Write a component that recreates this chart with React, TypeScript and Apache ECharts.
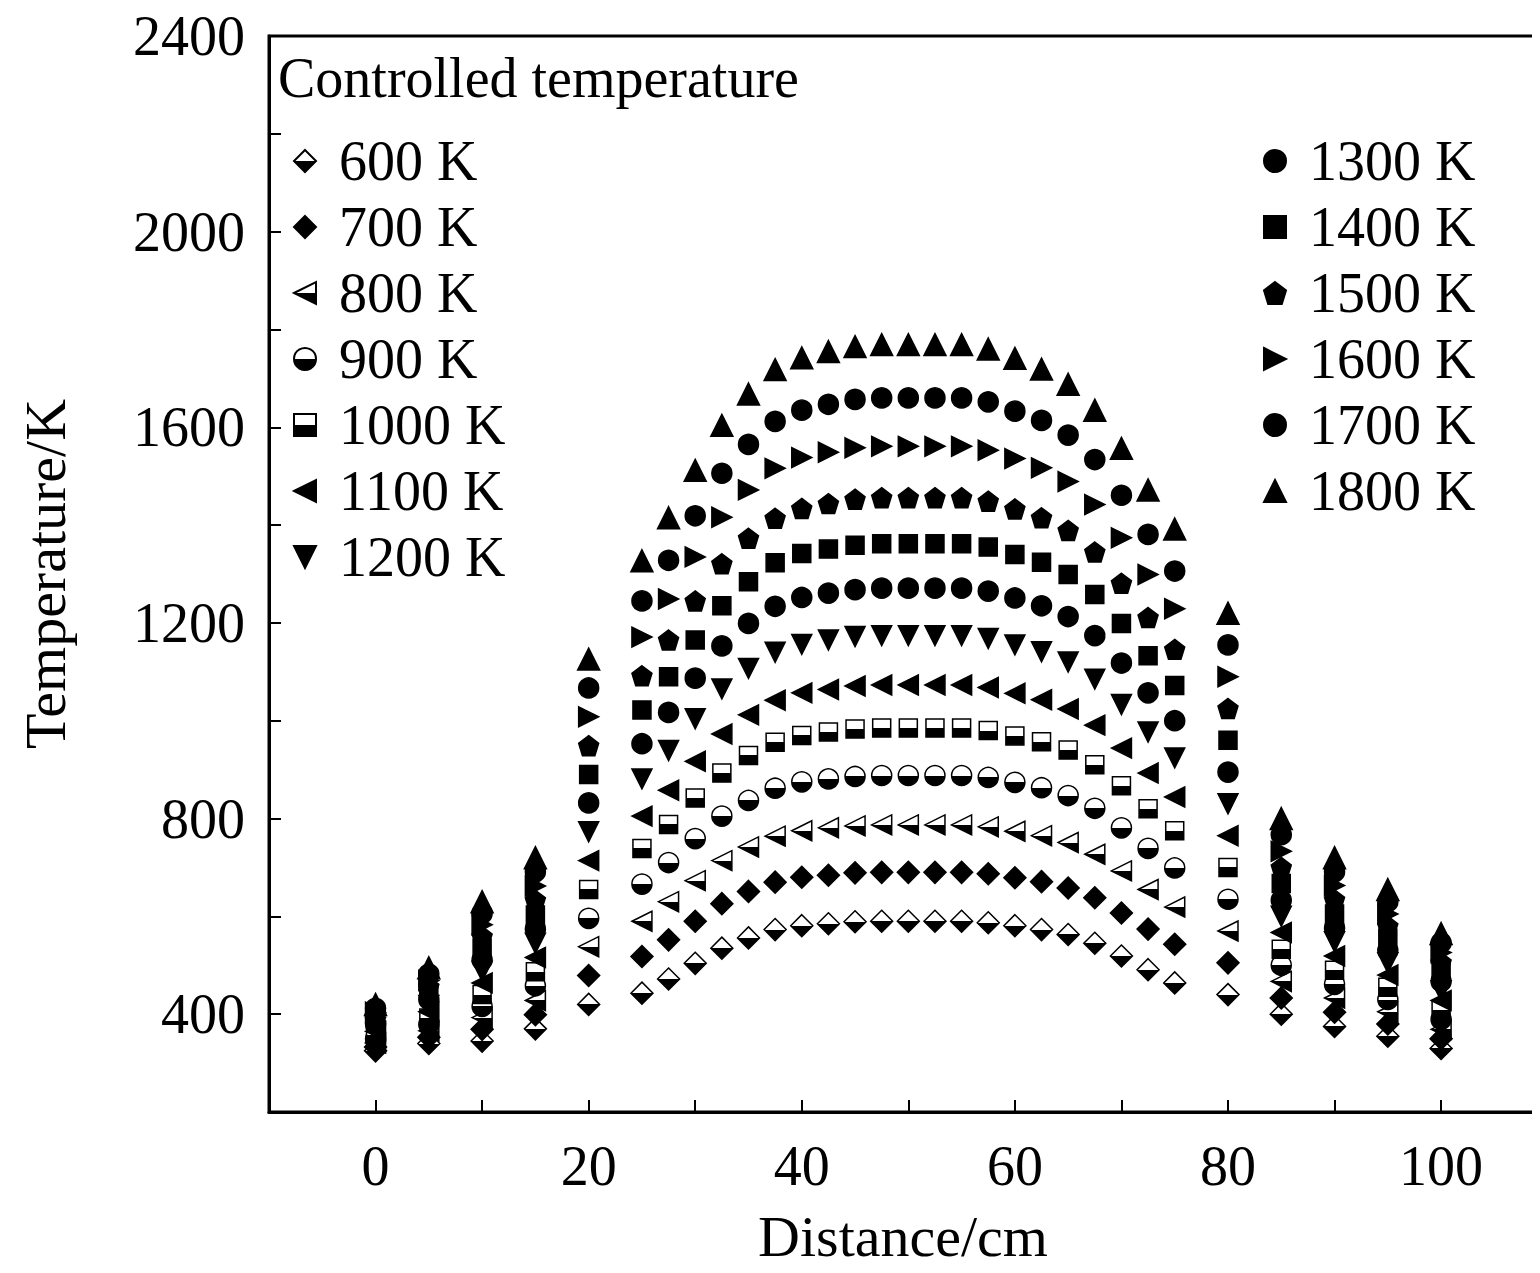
import React, { useEffect, useRef } from "react";
import * as echarts from "echarts";

const xs = [0, 5, 10, 15, 20, 25, 27.5, 30, 32.5, 35, 37.5, 40, 42.5, 45, 47.5, 50, 52.5, 55, 57.5, 60, 62.5, 65, 67.5, 70, 72.5, 75, 80, 85, 90, 95, 100];
const seriesNames = ["600 K", "700 K", "800 K", "900 K", "1000 K", "1100 K", "1200 K", "1300 K", "1400 K", "1500 K", "1600 K", "1700 K", "1800 K"];
// left edge values (x = 0..20)
const left0 = [325, 333, 341, 349, 357, 365, 373, 380, 388, 396, 404, 412, 420];
const left5 = [340, 353, 366, 379, 392, 405, 418, 430, 443, 456, 469, 482, 495];
const left10 = [345, 369, 393, 416, 440, 464, 488, 511, 535, 559, 583, 606, 630];
const left15 = [370, 399, 428, 458, 487, 516, 545, 574, 603, 633, 662, 691, 720];
const left20 = [420, 479, 538, 596, 655, 714, 773, 832, 890, 949, 1008, 1067, 1126];
// right edge values (x = 80..100)
const right80 = [440, 505, 570, 635, 700, 765, 830, 895, 960, 1025, 1090, 1155, 1220];
const right85 = [400, 433, 467, 500, 533, 567, 600, 633, 667, 700, 733, 767, 800];
const right90 = [375, 404, 433, 461, 490, 519, 548, 576, 605, 634, 663, 691, 720];
const right95 = [355, 380, 405, 430, 455, 480, 505, 530, 555, 580, 605, 630, 655];
const right100 = [330, 350, 369, 389, 408, 428, 448, 467, 487, 506, 526, 546, 565];
// central values (x = 25..75 step 2.5)
const c600 = [443, 472, 504, 535, 556, 573, 581, 585, 589, 590, 590, 590, 590, 587, 581, 573, 563, 545, 519, 491, 464];
const c700 = [518, 552, 590, 626, 651, 670, 680, 684, 689, 690, 690, 690, 690, 687, 679, 671, 658, 638, 607, 574, 543];
const c800 = [590, 630, 673, 714, 742, 764, 775, 781, 785, 787, 787, 787, 787, 783, 774, 765, 751, 727, 693, 655, 619];
const c900 = [666, 710, 759, 805, 837, 862, 875, 881, 886, 888, 888, 888, 888, 884, 874, 863, 847, 821, 781, 739, 699];
const c1000 = [739, 788, 842, 893, 929, 956, 970, 977, 983, 985, 985, 985, 985, 980, 969, 957, 940, 910, 867, 820, 775];
const c1100 = [805, 858, 917, 973, 1012, 1042, 1057, 1064, 1071, 1073, 1073, 1073, 1073, 1068, 1056, 1043, 1024, 991, 944, 893, 844];
const c1200 = [881, 939, 1004, 1065, 1107, 1140, 1156, 1165, 1172, 1174, 1174, 1174, 1174, 1168, 1155, 1141, 1120, 1085, 1033, 977, 924];
const c1300 = [953, 1017, 1087, 1153, 1199, 1234, 1252, 1261, 1268, 1271, 1271, 1271, 1271, 1265, 1251, 1235, 1213, 1174, 1118, 1057, 1000];
const c1400 = [1022, 1090, 1165, 1235, 1284, 1323, 1342, 1351, 1359, 1362, 1362, 1362, 1362, 1355, 1340, 1324, 1299, 1258, 1199, 1133, 1072];
const c1500 = [1092, 1165, 1245, 1321, 1373, 1414, 1434, 1444, 1453, 1456, 1456, 1456, 1456, 1449, 1433, 1415, 1389, 1345, 1281, 1211, 1146];
const c1600 = [1171, 1249, 1335, 1416, 1472, 1516, 1538, 1549, 1558, 1561, 1561, 1561, 1561, 1553, 1536, 1517, 1489, 1442, 1374, 1299, 1229];
const c1700 = [1245, 1328, 1419, 1506, 1565, 1612, 1635, 1647, 1657, 1660, 1660, 1660, 1660, 1652, 1633, 1614, 1584, 1534, 1461, 1381, 1306];
const c1800 = [1327, 1415, 1512, 1604, 1668, 1718, 1742, 1755, 1765, 1769, 1769, 1769, 1769, 1760, 1741, 1719, 1688, 1635, 1557, 1472, 1392];
const centrals = [c600, c700, c800, c900, c1000, c1100, c1200, c1300, c1400, c1500, c1600, c1700, c1800];

const FONT = "Liberation Serif";
const half = {
  type: "linear", x: 0, y: 0, x2: 0, y2: 1,
  colorStops: [
    { offset: 0, color: "#fff" }, { offset: 0.5, color: "#fff" },
    { offset: 0.5, color: "#000" }, { offset: 1, color: "#000" },
  ],
};
const TL = "path://M0,5 L10,0 L10,10 Z";
const TD = "path://M0,0 L10,0 L5,10 Z";
const TR = "path://M0,0 L10,5 L0,10 Z";
const PENT = "path://M5,0 L10,3.8 L8.1,10 L1.9,10 L0,3.8 Z";
const styles: any[] = [
  { symbol: "diamond", color: half, size: 22 },
  { symbol: "diamond", color: "#000", size: 22 },
  { symbol: TL, color: half, size: 20 },
  { symbol: "circle", color: half, size: 20 },
  { symbol: "rect", color: half, size: 18 },
  { symbol: TL, color: "#000", size: 20 },
  { symbol: TD, color: "#000", size: 20 },
  { symbol: "circle", color: "#000", size: 20 },
  { symbol: "rect", color: "#000", size: 18 },
  { symbol: PENT, color: "#000", size: 20 },
  { symbol: TR, color: "#000", size: 20 },
  { symbol: "circle", color: "#000", size: 20 },
  { symbol: "triangle", color: "#000", size: 22 },
];

export default function App() {
  const ref = useRef<HTMLDivElement>(null);
  useEffect(() => {
    const chart = echarts.init(ref.current!, null, { renderer: "svg" });
    const series = seriesNames.map((name, i) => {
      const ys = [left0[i], left5[i], left10[i], left15[i], left20[i], ...centrals[i], right80[i], right85[i], right90[i], right95[i], right100[i]];
      return {
        name,
        type: "scatter",
        data: xs.map((x, k) => [x, ys[k]]),
        symbol: styles[i].symbol,
        symbolSize: styles[i].size,
        itemStyle: { color: styles[i].color, borderColor: "#000", borderWidth: 1.5, opacity: 1 },
      };
    });
    const legendBase = {
      orient: "vertical",
      itemGap: 10,
      itemWidth: 22,
      itemHeight: 22,
      textStyle: { fontFamily: FONT, fontSize: 56, color: "#000", padding: [0, 0, 0, 18] },
    };
    chart.setOption({
      animation: false,
      backgroundColor: "#fff",
      grid: { left: 234, top: 12, right: 0, bottom: 161, show: true, borderColor: "#000", borderWidth: 3 },
      legend: [
        { ...legendBase, left: 280, top: 120, data: seriesNames.slice(0, 7) },
        { ...legendBase, left: 1250, top: 120, data: seriesNames.slice(7) },
      ],
      graphic: [
        { type: "text", left: 270, top: 42, style: { text: "Controlled temperature", fontFamily: FONT, fontSize: 56, fill: "#000" } },
      ],
      xAxis: {
        type: "value", min: -10, max: 109, interval: 10,
        name: "Distance/cm", nameLocation: "middle", nameGap: 95,
        nameTextStyle: { fontFamily: FONT, fontSize: 58, color: "#000" },
        axisLine: { onZero: false, lineStyle: { color: "#000", width: 3 } },
        axisTick: { inside: true, length: 12, lineStyle: { color: "#000", width: 2 } },
        axisLabel: {
          fontFamily: FONT, fontSize: 56, color: "#000", margin: 26,
          formatter: (v: number) => (v >= 0 && v <= 100 && v % 20 === 0 ? String(v) : ""),
        },
        splitLine: { show: false },
      },
      yAxis: {
        type: "value", min: 200, max: 2400, interval: 200,
        name: "Temperature/K", nameLocation: "middle", nameGap: 195, nameRotate: 90,
        nameTextStyle: { fontFamily: FONT, fontSize: 58, color: "#000" },
        axisLine: { onZero: false, lineStyle: { color: "#000", width: 3 } },
        axisTick: { inside: true, length: 12, lineStyle: { color: "#000", width: 2 } },
        axisLabel: {
          fontFamily: FONT, fontSize: 56, color: "#000", margin: 24,
          formatter: (v: number) => (v % 400 === 0 ? String(v) : ""),
        },
        splitLine: { show: false },
      },
      series,
    });
    return () => chart.dispose();
  }, []);
  return <div ref={ref} style={{ width: 1532, height: 1265 }} />;
}
